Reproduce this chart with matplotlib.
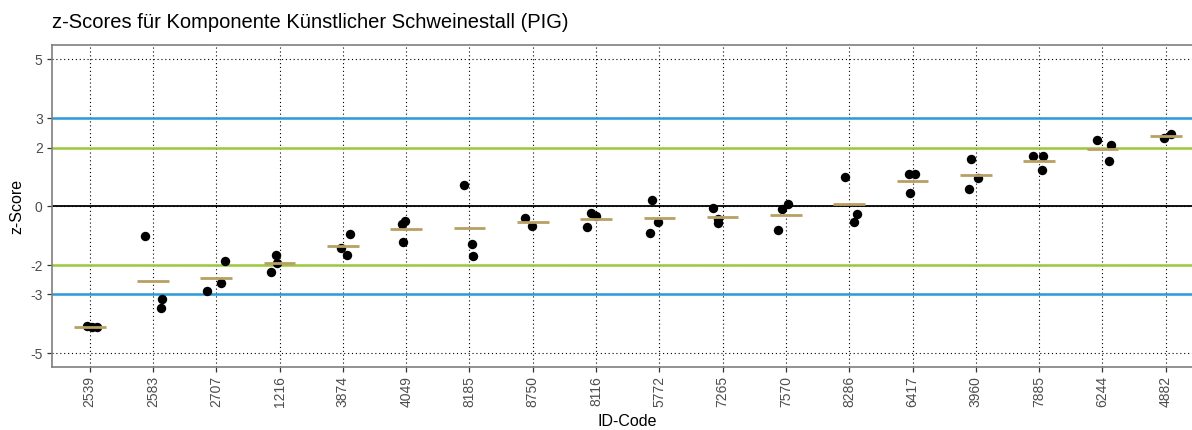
import matplotlib
matplotlib.use("Agg")
import matplotlib.pyplot as plt
import numpy as np

plt.rcParams['font.family'] = ['Liberation Sans', 'DejaVu Sans']

categories = ["2539", "2583", "2707", "1216", "3874", "4049", "8185", "8750", "8116",
              "5772", "7265", "7570", "8286", "6417", "3960", "7885", "6244", "4882"]

# z-score values per lab
values = [
    [-4.09, -4.10, -4.11],
    [-1.00, -3.15, -3.47],
    [-2.87, -2.60, -1.85],
    [-2.24, -1.66, -1.92],
    [-1.43, -1.66, -0.94],
    [-0.61, -0.49, -1.20],
    [0.71, -1.29, -1.68],
    [-0.41, -0.66],
    [-0.22, -0.33, -0.71],
    [0.23, -0.54, -0.92],
    [-0.06, -0.43, -0.58],
    [0.08, -0.10, -0.82],
    [0.99, -0.27, -0.53],
    [1.09, 1.09, 0.45],
    [1.60, 0.96, 0.59],
    [1.72, 1.72, 1.22],
    [2.24, 2.07, 1.53],
    [2.34, 2.46],
]

# horizontal jitter of the points (category units)
jitter = [
    [-0.04, 0.04, 0.12],
    [-0.13, 0.14, 0.13],
    [-0.14, 0.07, 0.14],
    [-0.14, -0.05, -0.04],
    [-0.03, 0.06, 0.12],
    [-0.07, -0.02, -0.05],
    [-0.08, 0.04, 0.06],
    [-0.13, -0.01],
    [-0.08, 0.00, -0.14],
    [-0.12, -0.02, -0.15],
    [-0.15, -0.07, -0.08],
    [0.03, -0.06, -0.13],
    [-0.07, 0.12, 0.08],
    [-0.06, 0.04, -0.04],
    [-0.07, 0.04, -0.11],
    [-0.09, 0.06, 0.04],
    [-0.09, 0.14, 0.11],
    [-0.03, 0.08],
]

yticks = [-5, -3, -2, 0, 2, 3, 5]

W, H = 1192, 430
fig = plt.figure(figsize=(W / 100, H / 100), dpi=100)
ax = fig.add_axes([51.7 / W, (H - 367) / H, 1152 / W, 322 / H])

n = len(categories)
ax.set_xlim(-0.6, n - 1 + 0.6)
ax.set_ylim(-5.47, 5.49)

# grid
for i in range(n):
    ax.axvline(i, color='black', lw=0.8, ls=(0, (1, 2.5)), zorder=1)
for yv in yticks:
    ax.axhline(yv, color='black', lw=0.8, ls=(0, (1, 2.5)), zorder=1)

# reference lines
ax.axhline(0, color='black', lw=1.3, zorder=2)
for yv in (2, -2):
    ax.axhline(yv, color='#9AC83C', lw=1.8, zorder=2)
for yv in (3, -3):
    ax.axhline(yv, color='#2A9AD8', lw=1.8, zorder=2)

# points and means
for i, (vals, jit) in enumerate(zip(values, jitter)):
    xs = [i + j for j in jit]
    ax.scatter(xs, vals, s=46, color='black', zorder=4, linewidths=0)
    m = float(np.mean(vals))
    ax.plot([i - 0.25, i + 0.25], [m, m], color='#B8A064', lw=2.0, zorder=5,
            solid_capstyle='butt')

ax.set_xticks(range(n))
ax.set_xticklabels(categories, rotation=90, fontsize=10, color='#4D4D4D')
ax.set_yticks(yticks)
ax.set_yticklabels([str(v) for v in yticks], fontsize=10, color='#4D4D4D')
ax.tick_params(axis='both', length=3.5, width=0.9, color='#333333', pad=3)

for sp in ax.spines.values():
    sp.set_color('#7F7F7F')
    sp.set_linewidth(1.2)

ax.set_xlabel('ID-Code', fontsize=11.5, labelpad=5)
ax.set_ylabel('z-Score', fontsize=11.5, labelpad=4)

fig.text(51.7 / W, 1 - 22 / H, 'z-Scores für Komponente Künstlicher Schweinestall (PIG)',
         fontsize=14.5, ha='left', va='center')

fig.savefig('out.png', dpi=100)
